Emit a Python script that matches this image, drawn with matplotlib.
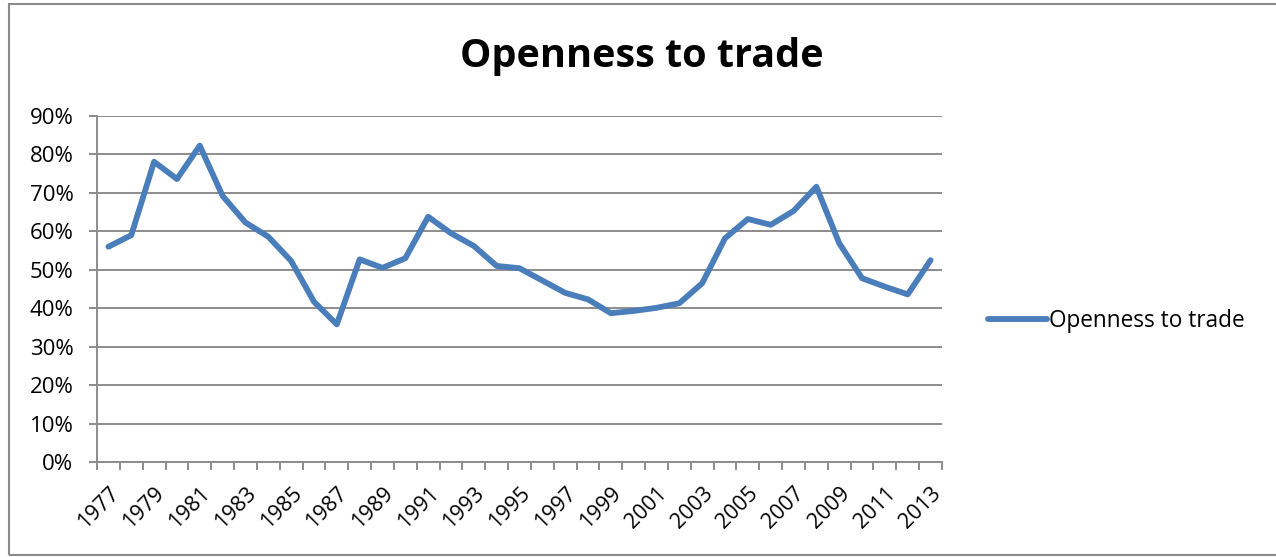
import matplotlib
matplotlib.use("Agg")
import matplotlib.pyplot as plt
from matplotlib.patches import Rectangle
from matplotlib.ticker import PercentFormatter, FixedLocator

years = list(range(1977, 2014))
openness = [56.0, 59.0, 78.1, 73.6, 82.3, 69.2, 62.3, 58.6, 52.3, 41.7,
            35.8, 52.7, 50.5, 53.0, 63.8, 59.5, 56.2, 51.0, 50.4, 47.2,
            44.0, 42.3, 38.7, 39.3, 40.1, 41.3, 46.5, 58.2, 63.2, 61.7,
            65.3, 71.6, 56.9, 47.8, 45.6, 43.6, 52.5]
series_name = "Openness to trade"
title = "Openness to trade"
yticks = [0, 10, 20, 30, 40, 50, 60, 70, 80, 90]

plt.rcParams['font.family'] = ['Open Sans', 'DejaVu Sans']

W, H = 1276, 557
fig = plt.figure(figsize=(W / 100, H / 100), dpi=100)
fig.patch.set_facecolor('white')

# outer chart border
fig.add_artist(Rectangle((9 / W, 2 / H), 1.2, (553 - 2) / H,
                         transform=fig.transFigure, fill=False,
                         edgecolor='#8a8a8a', linewidth=1.5))

ax = fig.add_axes([97 / W, (H - 462) / H, (942 - 97) / W, (462 - 116) / H])
x = list(range(len(years)))
line, = ax.plot(x, openness, color='#4A7EBB', linewidth=4.2,
                solid_joinstyle='round', solid_capstyle='round', label=series_name)

ax.set_xlim(-0.5, len(years) - 0.5)
ax.set_ylim(0, 90)
ax.set_yticks(yticks)
ax.yaxis.set_major_formatter(PercentFormatter(decimals=0))
ax.grid(axis='y', color='#8c8c8c', linewidth=1.4)
ax.set_axisbelow(True)

for s in ['top', 'right']:
    ax.spines[s].set_visible(False)
for s in ['left', 'bottom']:
    ax.spines[s].set_color('#8c8c8c')
    ax.spines[s].set_linewidth(1.4)

# category labels every other year, tick marks between categories
ax.set_xticks(x[::2])
ax.set_xticklabels([str(y) for y in years[::2]], rotation=45, ha='right',
                   rotation_mode='anchor', fontsize=15.5)
ax.tick_params(axis='x', which='major', length=0, pad=15)
ax.xaxis.set_minor_locator(FixedLocator([i - 0.5 for i in range(len(years) + 1)]))
ax.tick_params(axis='x', which='minor', length=6, color='#8c8c8c', width=1.4)
ax.tick_params(axis='y', length=6, color='#8c8c8c', width=1.4, labelsize=16, pad=11)

fig.text(642 / W, (H - 57) / H, title, ha='center', va='center',
         fontsize=28.5, fontweight='bold')

leg = fig.legend(handles=[line], loc='center left',
                 bbox_to_anchor=(988 / W, (H - 321) / H), frameon=False,
                 fontsize=16.3, handlelength=2.6, handletextpad=0.1,
                 borderaxespad=0, borderpad=0)

fig.savefig('out.png', dpi=100)
